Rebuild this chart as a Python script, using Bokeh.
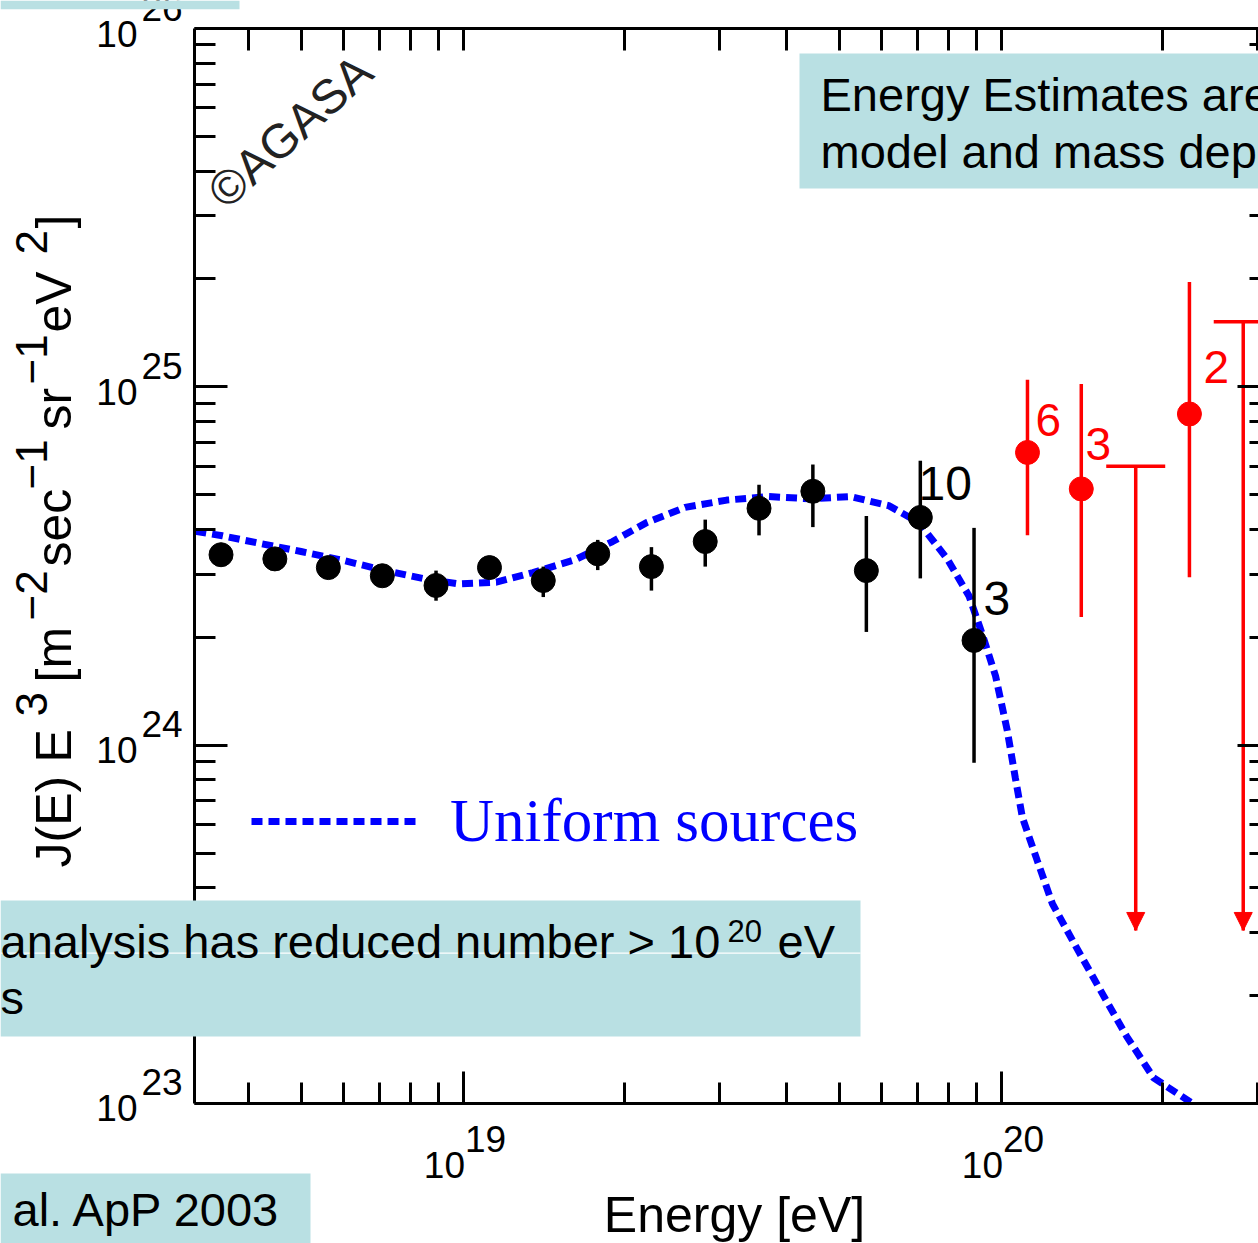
import math
from bokeh.plotting import figure
from bokeh.models import (Range1d, FixedTicker, LogAxis, Label, BoxAnnotation, Whisker,
                          TeeHead, NormalHead, ColumnDataSource, Legend, LegendItem,
                          CustomJSTickFormatter)
from bokeh.embed import file_html
from bokeh.resources import INLINE

# ---------------- data ----------------
agasa_energy = [3.55e18, 4.47e18, 5.62e18, 7.08e18, 8.91e18, 1.12e19, 1.41e19, 1.78e19,
                2.24e19, 2.82e19, 3.55e19, 4.47e19, 5.62e19, 7.08e19, 8.91e19]
agasa_flux = [3.40e24, 3.31e24, 3.13e24, 2.97e24, 2.79e24, 3.13e24, 2.88e24, 3.42e24,
              3.15e24, 3.70e24, 4.58e24, 5.11e24, 3.07e24, 4.32e24, 1.96e24]
agasa_lo = [3.28e24, 3.19e24, 3.01e24, 2.84e24, 2.53e24, 2.95e24, 2.59e24, 3.08e24,
            2.70e24, 3.15e24, 3.85e24, 4.06e24, 2.07e24, 2.92e24, 8.93e23]
agasa_hi = [3.52e24, 3.43e24, 3.26e24, 3.10e24, 3.07e24, 3.35e24, 3.15e24, 3.74e24,
            3.57e24, 4.26e24, 5.33e24, 6.07e24, 4.36e24, 6.22e24, 4.04e24]

high_energy = [1.12e20, 1.41e20, 2.24e20]
high_flux = [6.56e24, 5.19e24, 8.40e24]
high_lo = [3.85e24, 2.28e24, 2.94e24]
high_hi = [1.047e25, 1.019e25, 1.96e25]

limit_energy = [1.78e20, 2.82e20]
limit_flux = [6.0e24, 1.52e25]
limit_arrow_end = [3.04e23, 3.04e23]

model_energy = [3.18e18, 3.57e18, 4.22e18, 5.00e18, 5.93e18, 7.10e18, 8.42e18, 9.79e18,
                1.153e19, 1.349e19, 1.614e19, 1.897e19, 2.194e19, 2.587e19, 3.093e19,
                3.698e19, 4.415e19, 5.248e19, 6.185e19, 7.037e19, 7.943e19, 8.718e19,
                9.23e19, 9.77e19, 1.027e20, 1.063e20, 1.096e20, 1.168e20, 1.246e20,
                1.369e20, 1.525e20, 1.712e20, 1.921e20, 2.27e20]
model_flux = [3.95e24, 3.84e24, 3.65e24, 3.47e24, 3.29e24, 3.08e24, 2.92e24, 2.82e24,
              2.85e24, 3.03e24, 3.29e24, 3.70e24, 4.18e24, 4.61e24, 4.83e24,
              4.94e24, 4.87e24, 4.94e24, 4.66e24, 4.18e24, 3.31e24, 2.61e24,
              2.04e24, 1.56e24, 1.10e24, 8.12e23, 6.28e23, 4.76e23, 3.61e23,
              2.79e23, 2.09e23, 1.54e23, 1.18e23, 1.0e23]

x_major = [1e19, 1e20]
x_minor = [4e18, 5e18, 6e18, 7e18, 8e18, 9e18, 2e19, 3e19, 4e19, 5e19, 6e19, 7e19, 8e19,
           9e19, 2e20, 3e20]
x_exps = ["19", "20"]
y_major = [1e23, 1e24, 1e25, 1e26]
y_minor = [2e23, 3e23, 4e23, 5e23, 6e23, 7e23, 8e23, 9e23,
           2e24, 3e24, 4e24, 5e24, 6e24, 7e24, 8e24, 9e24,
           2e25, 3e25, 4e25, 5e25, 6e25, 7e25, 8e25, 9e25]
y_exps = ["23", "24", "25", "26"]

# plot box limits (data)
x_lo, x_hi = 10 ** 18.5, 10 ** 20.5
y_lo, y_hi = 1e23, 1e26

# ---------------- layout constants ----------------
W, H = 1258, 1243
X19_PX, PX_PER_DEC_X = 462.5, 538.0      # pixel of 1e19, pixels per decade (x)
Y26_PX, PX_PER_DEC_Y = 28.0, 358.33      # pixel of 1e26, pixels per decade (y)
CYAN = "#B9E0E3"
BLUE = "#0000FF"
RED = "#FF0000"
SANS = "Liberation Sans"
MID = 0.35   # labels are anchored at the middle of the text
TICK_FS = "37px"


def sx(px):
    return px


def sy(py):
    return H - py


def lab(text, px, py_base, size, color="black", font=SANS, align="left", angle=0.0):
    """py_base is the text baseline in picture pixels (top-left origin)."""
    return Label(x=sx(px), y=sy(py_base - MID * size), x_units="screen", y_units="screen",
                 text=text, text_font=font, text_font_size=f"{size}px", text_color=color,
                 text_align=align, text_baseline="alphabetic", angle=angle)


def vlab(text, px_base, py, size, color="black"):
    """vertical text reading upwards, px_base = baseline x."""
    return Label(x=sx(px_base - MID * size), y=sy(py), x_units="screen", y_units="screen",
                 text=text, text_font=SANS, text_font_size=f"{size}px", text_color=color,
                 text_align="left", text_baseline="alphabetic", angle=math.pi / 2)


def box(x0, y0, x1, y1, color=CYAN):
    return BoxAnnotation(left=sx(x0), right=sx(x1), top=sy(y0), bottom=sy(y1),
                         left_units="screen", right_units="screen",
                         top_units="screen", bottom_units="screen",
                         fill_color=color, fill_alpha=1.0, line_color=None)


xr = Range1d(10 ** (19 - X19_PX / PX_PER_DEC_X), 10 ** (19 + (W - X19_PX) / PX_PER_DEC_X))
yr = Range1d(10 ** (26 - (H - Y26_PX) / PX_PER_DEC_Y), 10 ** (26 + Y26_PX / PX_PER_DEC_Y))

p = figure(width=W, height=H, x_axis_type="log", y_axis_type="log",
           x_range=xr, y_range=yr, output_backend="svg", toolbar_location=None,
           min_border_left=0, min_border_right=0, min_border_top=0, min_border_bottom=0)
p.outline_line_color = None
p.xgrid.visible = False
p.ygrid.visible = False
p.background_fill_color = "white"
p.border_fill_color = "white"

xt = FixedTicker(ticks=x_major, minor_ticks=x_minor)
yt = FixedTicker(ticks=y_major, minor_ticks=y_minor)
blank = CustomJSTickFormatter(code="return ''")


def style(ax, maj_in, min_in, loc, bounds):
    ax.fixed_location = loc
    ax.bounds = bounds
    ax.major_tick_in = maj_in
    ax.major_tick_out = 0
    ax.minor_tick_in = min_in
    ax.minor_tick_out = 0
    ax.major_tick_line_width = 3
    ax.minor_tick_line_width = 3
    ax.major_tick_line_color = "black"
    ax.minor_tick_line_color = "black"
    ax.axis_line_width = 3
    ax.axis_line_color = "black"
    ax.major_label_text_font_size = "0px"
    ax.major_label_standoff = 0
    ax.formatter = blank


p.xaxis[0].ticker = xt
p.yaxis[0].ticker = yt
style(p.xaxis[0], 32, 21, y_lo, (x_lo, x_hi))
style(p.yaxis[0], 33, 21, x_lo, (y_lo, y_hi))
top_axis = LogAxis(ticker=xt)
p.add_layout(top_axis, "above")
style(top_axis, 22, 22, y_hi, (x_lo, x_hi))
right_axis = LogAxis(ticker=yt)
p.add_layout(right_axis, "right")
style(right_axis, 33, 21, x_hi, (y_lo, y_hi))

# ---------------- model curve ----------------
curve = p.line(model_energy, model_flux, line_color=BLUE, line_width=7, line_dash="11 6")

# ---------------- AGASA points ----------------
p.segment(x0=agasa_energy, y0=agasa_lo, x1=agasa_energy, y1=agasa_hi,
          line_color="black", line_width=3.5)
p.scatter(agasa_energy, agasa_flux, size=24, color="black")

p.segment(x0=high_energy, y0=high_lo, x1=high_energy, y1=high_hi,
          line_color=RED, line_width=3.5)
p.scatter(high_energy, high_flux, size=24, color=RED)

lim_src = ColumnDataSource(dict(x=limit_energy, up=limit_flux, lo=limit_arrow_end))
p.add_layout(Whisker(source=lim_src, base="x", upper="up", lower="lo", dimension="height",
                     line_color=RED, line_width=3.5, level="glyph",
                     upper_head=TeeHead(size=59, line_color=RED, line_width=3.5),
                     lower_head=NormalHead(size=18, fill_color=RED, line_color=RED,
                                           line_width=1)))

# ---------------- legend ----------------
legend = Legend(items=[LegendItem(label="Uniform sources", renderers=[curve])],
                location=(sx(251), sy(856)), glyph_width=165, glyph_height=20,
                label_text_font="Liberation Serif", label_text_font_size="61px",
                label_text_color=BLUE, label_standoff=34, padding=0, margin=0,
                spacing=0, border_line_color=None, background_fill_alpha=0)
p.add_layout(legend)

# ---------------- tick labels ----------------
for v, e in zip(y_major, y_exps):
    p.add_layout(Label(x=sx(137), x_units="screen", y=v, y_units="data", y_offset=-5,
                       text="10", text_align="right", text_baseline="alphabetic",
                       text_font=SANS, text_font_size=TICK_FS, text_color="black"))
    p.add_layout(Label(x=sx(141), x_units="screen", y=v, y_units="data", y_offset=21,
                       text=e, text_align="left", text_baseline="alphabetic",
                       text_font=SANS, text_font_size=TICK_FS, text_color="black"))
for v, e in zip(x_major, x_exps):
    p.add_layout(Label(x=v, x_units="data", x_offset=2, y=sy(1164.5), y_units="screen",
                       text="10", text_align="right", text_baseline="alphabetic",
                       text_font=SANS, text_font_size=TICK_FS, text_color="black"))
    p.add_layout(Label(x=v, x_units="data", x_offset=2, y=sy(1138.5), y_units="screen",
                       text=e, text_align="left", text_baseline="alphabetic",
                       text_font=SANS, text_font_size=TICK_FS, text_color="black"))

# ---------------- axis titles ----------------
p.add_layout(lab("Energy [eV]", 734, 1232, 50, align="center"))
MAIN, SUP = 50, 44
BX, SX = 71, 46.7
ytitle = [("J(E)", 867, BX, MAIN), ("E", 762, BX, MAIN), ("3", 716, SX, SUP),
          ("[m", 682, BX, MAIN), ("\u22122", 620, SX, SUP), ("sec", 566, BX, MAIN),
          ("\u22121", 489, SX, SUP), ("sr", 429, BX, MAIN), ("\u22121", 384, SX, SUP),
          ("eV", 332, BX, MAIN), ("2", 254, SX, SUP), ("]", 228, BX, MAIN)]
for t, yy, xx, fs in ytitle:
    p.add_layout(vlab(t, xx, yy, fs))

# ---------------- annotations in plot ----------------
p.add_layout(Label(x=sx(215), y=sy(198), x_units="screen", y_units="screen",
                   text="\u00a9AGASA", text_font=SANS, text_font_size="48px",
                   text_color="#222222", text_align="left", text_baseline="alphabetic",
                   angle=math.radians(42)))
p.add_layout(lab("10", 918, 500, 48))
p.add_layout(lab("3", 983, 615, 48))
p.add_layout(lab("6", 1035, 436, 46, color=RED))
p.add_layout(lab("3", 1085, 460, 46, color=RED))
p.add_layout(lab("2", 1203, 383, 46, color=RED))

# ---------------- slide boxes ----------------
p.add_layout(box(0, 0, 239, 8.7))
p.add_layout(box(799, 53, 1258, 188))
p.add_layout(box(0, 900, 860, 1036))
p.add_layout(box(0, 952, 860, 953.3, color="white"))
p.add_layout(box(0, 1173, 310, 1243))

p.add_layout(lab("Energy Estimates are", 820, 110, 47))
p.add_layout(lab("model and mass dep", 820, 167, 47))
p.add_layout(lab("analysis has reduced number > 10", 0, 957, 47))
p.add_layout(lab("20", 727, 941, 31))
p.add_layout(lab("eV", 777, 957, 47))
p.add_layout(lab("s", 0, 1013, 47))
p.add_layout(lab("al. ApP 2003", 12, 1225, 47))

open("out.html", "w").write(file_html(p, INLINE))
